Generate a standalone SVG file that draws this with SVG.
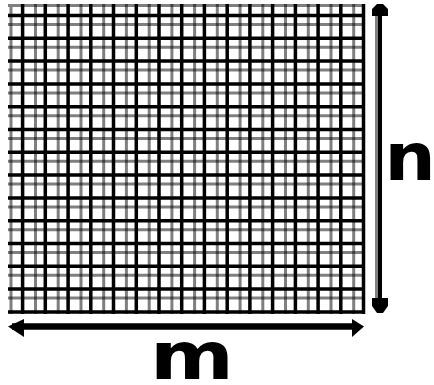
<svg xmlns="http://www.w3.org/2000/svg" width="434" height="385" viewBox="0 0 434 385">
<style>
.blk{stroke:#000;stroke-width:3.5;fill:none}
.gry{stroke:#000;stroke-opacity:0.5;stroke-width:3;fill:none}
.lbl{font-family:"DejaVu Sans",sans-serif;font-weight:bold;font-size:66px;fill:#000}
</style>
<rect width="434" height="385" fill="#fff"/>
<g id="grid">
<path class="gry" d="M11,4V314M8,5.5H365"/>
<path class="gry" d="M35.5,4V314M58.2,4V314M81,4V314M103.7,4V314M126.4,4V314M149.2,4V314M171.9,4V314M194.6,4V314M217.3,4V314M240.1,4V314M262.8,4V314M285.5,4V314M308.3,4V314M331,4V314M353.7,4V314"/>
<path class="gry" d="M8,24.5H365M8,47.3H365M8,70.1H365M8,92.9H365M8,115.7H365M8,138.5H365M8,161.3H365M8,184.1H365M8,206.9H365M8,229.7H365M8,252.5H365M8,275.3H365M8,298.1H365"/>
<path class="blk" d="M22.6,4V314M45.3,4V314M68.1,4V314M90.8,4V314M113.5,4V314M136.3,4V314M159,4V314M181.7,4V314M204.4,4V314M227.2,4V314M249.9,4V314M272.6,4V314M295.4,4V314M318.1,4V314M340.8,4V314M363.5,4V314"/>
<path class="blk" d="M8,15.5H365M8,38.3H365M8,61.1H365M8,83.9H365M8,106.7H365M8,129.5H365M8,152.3H365M8,175.1H365M8,197.9H365M8,220.7H365M8,243.5H365M8,266.3H365M8,289.1H365M8,312H365"/>
</g>
<g id="connectors">
<line x1="376.5" y1="12" x2="376.5" y2="305" stroke="#808080" stroke-width="3"/>
<line x1="380" y1="12" x2="380" y2="305" stroke="#000" stroke-width="4"/>
<polygon points="377,4 383,4 388,9 388,16 372,16 372,9" fill="#000"/>
<polygon points="377,313 383,313 388,306 388,298 372,298 372,306" fill="#000"/>
<line x1="12" y1="326.5" x2="358" y2="326.5" stroke="#000" stroke-width="6.5"/>
<polygon points="8,326.5 24,319 24,337" fill="#000"/>
<polygon points="364,326.5 352,319 352,337" fill="#000"/>
</g>
<g id="label-m"><text class="lbl" transform="translate(150,379) scale(1.22,1)">m</text></g>
<g id="label-n"><text class="lbl" transform="translate(384.5,180) scale(1.09,1)">n</text></g>
</svg>
